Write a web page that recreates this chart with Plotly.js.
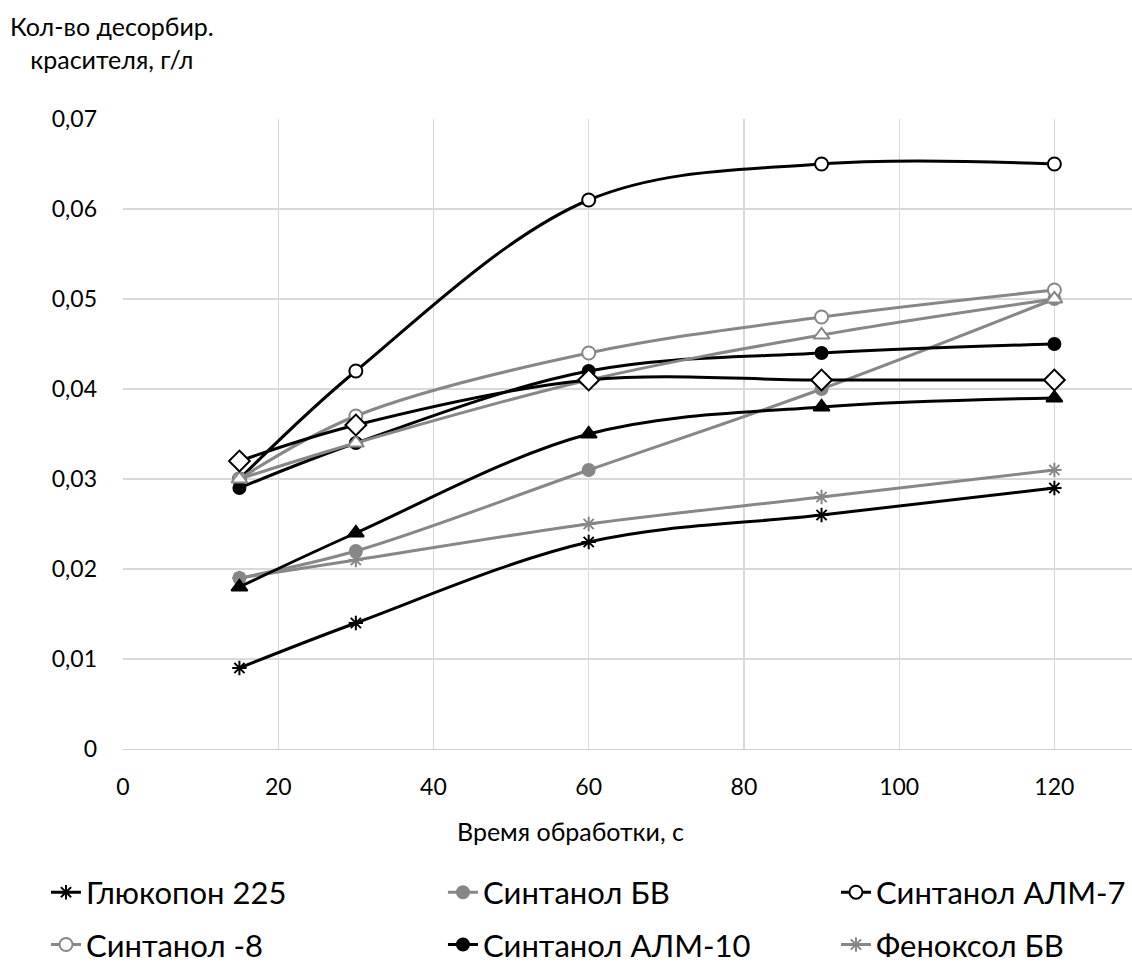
<!DOCTYPE html>
<html>
<head>
<meta charset="utf-8">
<script src="https://cdn.plot.ly/plotly-3.0.1.min.js"></script>
<style>
  html, body { margin: 0; padding: 0; background: #fff; }
  #chart { width: 1132px; height: 965px; }
</style>
</head>
<body>
<div id="chart"></div>
<script>
// Время обработки, с
const times = [15, 30, 60, 90, 120];

// Кол-во десорбированного красителя, г/л
const glukopon225   = [0.009, 0.014, 0.023, 0.026, 0.029];
const sintanolBV    = [0.019, 0.022, 0.031, 0.040, 0.050];
const sintanolALM7  = [0.030, 0.042, 0.061, 0.065, 0.065];
const sintanol8     = [0.030, 0.037, 0.044, 0.048, 0.051];
const sintanolALM10 = [0.029, 0.034, 0.042, 0.044, 0.045];
const fenoksolBV    = [0.019, 0.021, 0.025, 0.028, 0.031];
const series7       = [0.018, 0.024, 0.035, 0.038, 0.039];
const series8       = [0.030, 0.034, 0.041, 0.046, 0.050];
const series9       = [0.032, 0.036, 0.041, 0.041, 0.041];

const yTicks = [0, 0.01, 0.02, 0.03, 0.04, 0.05, 0.06, 0.07];
const xTicks = [0, 20, 40, 60, 80, 100, 120];

const BLACK = '#000000';
const GRAY = '#878787';
const FONT = 'Lato, "Open Sans", sans-serif';

function trace(name, y, color, symbol, size, filled, legend, group, showlegend) {
  return {
    type: 'scatter',
    mode: 'lines+markers',
    name: name,
    x: times,
    y: y,
    legend: legend,
    legendgroup: group,
    showlegend: showlegend,
    cliponaxis: false,
    line: { color: color, width: 3, shape: 'spline', smoothing: 1 },
    marker: {
      symbol: symbol,
      size: size,
      color: filled ? color : '#ffffff',
      line: { color: color, width: 2 }
    }
  };
}

const data = [
  trace('Глюкопон 225', glukopon225, BLACK, 'asterisk-open', 12, true, 'legend', 'a', true),
  trace('Синтанол БВ', sintanolBV, GRAY, 'circle', 12, true, 'legend2', 'b', true),
  trace('Синтанол АЛМ-7', sintanolALM7, BLACK, 'circle', 13, false, 'legend3', 'c', true),
  trace('Синтанол -8', sintanol8, GRAY, 'circle', 13, false, 'legend', 'd', true),
  trace('Синтанол АЛМ-10', sintanolALM10, BLACK, 'circle', 12, true, 'legend2', 'e', true),
  trace('Феноксол БВ', fenoksolBV, GRAY, 'asterisk-open', 12, true, 'legend3', 'f', true),
  trace('Ряд 7', series7, BLACK, 'triangle-up', 14, true, 'legend', 'g', false),
  trace('Ряд 8', series8, GRAY, 'triangle-up', 14, false, 'legend', 'h', false),
  trace('Ряд 9', series9, BLACK, 'diamond', 16, false, 'legend', 'i', false)
];

const legendBase = {
  orientation: 'v',
  xanchor: 'left',
  yanchor: 'top',
  y: -0.185,
  bgcolor: 'rgba(0,0,0,0)',
  borderwidth: 0,
  traceorder: 'grouped',
  tracegroupgap: 9,
  itemwidth: 30,
  font: { family: FONT, size: 31, color: '#000' }
};

const layout = {
  width: 1132,
  height: 965,
  paper_bgcolor: '#ffffff',
  plot_bgcolor: '#ffffff',
  separators: ', ',
  margin: { l: 123, r: 0, t: 119, b: 216, autoexpand: false },
  font: { family: FONT, color: '#000' },
  xaxis: {
    range: [0, 130],
    tickvals: xTicks,
    ticks: '',
    showgrid: true,
    gridcolor: '#d9d9d9',
    gridwidth: 1.3,
    zeroline: false,
    showline: true,
    linecolor: '#d0d0d0',
    linewidth: 1.3,
    ticklabelstandoff: 17,
    tickfont: { family: FONT, size: 23, color: '#000' }
  },
  yaxis: {
    range: [0, 0.07],
    tickvals: yTicks,
    ticks: '',
    showgrid: true,
    gridcolor: '#d9d9d9',
    gridwidth: 1.3,
    zeroline: false,
    showline: false,
    ticklabelstandoff: 25,
    tickfont: { family: FONT, size: 23, color: '#000' }
  },
  annotations: [
    {
      text: 'Кол-во десорбир.<br>красителя, г/л',
      xref: 'paper', yref: 'paper',
      x: -0.0109, y: 1.174,
      xanchor: 'center', yanchor: 'top',
      align: 'center',
      showarrow: false,
      font: { family: FONT, size: 25, color: '#000' }
    },
    {
      text: 'Время обработки, с',
      xref: 'paper', yref: 'paper',
      x: 0.444, y: -0.130,
      xanchor: 'center', yanchor: 'middle',
      showarrow: false,
      font: { family: FONT, size: 25, color: '#000' }
    }
  ],
  legend:  Object.assign({}, legendBase, { x: -0.0763 }),
  legend2: Object.assign({}, legendBase, { x: 0.3171 }),
  legend3: Object.assign({}, legendBase, { x: 0.7066 }),
  showlegend: true
};

Plotly.newPlot('chart', data, layout, { displayModeBar: false, staticPlot: true });
</script>
</body>
</html>
